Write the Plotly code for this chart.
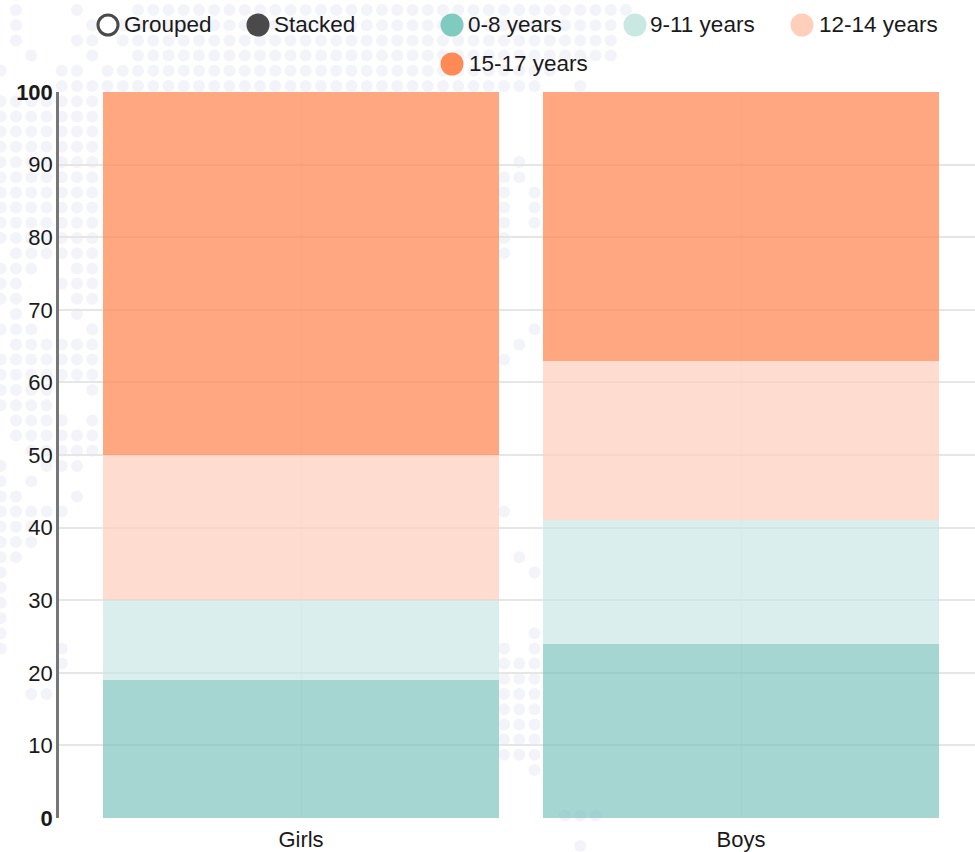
import plotly.graph_objects as go

categories = ["Girls", "Boys"]
series_names = ["0-8 years", "9-11 years", "12-14 years", "15-17 years"]
values_0_8 = [19, 24]
values_9_11 = [11, 17]
values_12_14 = [20, 22]
values_15_17 = [50, 37]
series_values = [values_0_8, values_9_11, values_12_14, values_15_17]
bar_colors = ["rgba(123,195,189,0.68)", "rgba(201,232,228,0.68)",
              "rgba(255,207,188,0.72)", "rgba(255,138,85,0.75)"]
legend_colors = ["#80CBC0", "#C9E8E1", "#FFCFBC", "#FF8A55"]
y_ticks = [0, 10, 20, 30, 40, 50, 60, 70, 80, 90, 100]
y_tick_labels = ["<b>0</b>", "10", "20", "30", "40", "50", "60", "70", "80", "90", "<b>100</b>"]

# Decorative dotted background: row index -> column indices on the page's dot lattice
def span(a, b):
    return list(range(a, b + 1))

dot_rows = {
    0: [0, 4] + span(8, 40), 1: [0, 5] + span(7, 39), 2: [0, 4, 5] + span(7, 39),
    3: [1, 5] + span(8, 39), 4: [-1, 3, 4] + span(6, 35), 5: span(3, 34) + [37],
    6: span(-1, 5), 7: span(-1, 5), 8: span(-1, 5), 9: span(-1, 5),
    10: span(-1, 5) + [33], 11: span(-1, 5) + [32, 33], 12: span(-1, 5) + [32, 34],
    13: span(-1, 5) + [32, 34], 14: span(-1, 5) + [32, 34], 15: span(-1, 5) + [32],
    16: span(0, 5) + [32], 17: [-1, 0, 1, 4, 5], 18: [-1, 0, 3, 4, 5], 19: [-1, 0, 4, 5],
    20: [0, 4], 21: [-1, 0, 1, 5, 34], 22: span(0, 5) + [33], 23: span(-1, 5) + [32],
    24: span(-1, 5), 25: [-1, 0, 1, 2, 5], 26: [-1, 0, 1, 2], 27: [0, 1, 2, 3, 5],
    28: span(0, 5), 29: span(1, 5), 30: [-1, 2, 3, 4], 31: [-1, 1], 32: [-1, 0, 4],
    33: span(-1, 3) + [32], 34: [-1, 0, 1], 35: [-1, 0, 1], 36: [-1, 0, 33], 37: [-1, 34],
    38: [-1], 39: [-1], 40: [-1], 41: [-1, 34], 42: [-1, 3, 32, 34], 43: [3, 32, 33, 34],
    44: [32, 33, 34], 45: [1, 2, 32, 33, 34], 46: [32, 33, 34], 47: [32, 33, 34],
    48: [32, 33, 34], 49: [32, 33, 34], 50: [34], 53: [36, 37, 38], 55: [37],
}

W, H = 975, 852
L, R, T, B = 59, 0, 92, 34
FONT = "Liberation Sans, Arial, sans-serif"
INK = "#1a1a1a"


def px(x):
    return (x - L) / (W - L - R)


def py(y):
    return 1 - (y - T) / (H - T - B)


def circle(cx, cy, r, fill, line=None, lw=0, layer="above"):
    return dict(type="circle", xref="paper", yref="paper", layer=layer,
                x0=px(cx - r), x1=px(cx + r), y0=py(cy + r), y1=py(cy - r),
                fillcolor=fill, line=dict(color=line or fill, width=lw))


shapes = []
for row, cols in dot_rows.items():
    for c in cols:
        shapes.append(circle(16 + 15.25 * c, 10 + 15.2 * row, 6, "#F3F3FA", layer="below"))

legend_items = [
    ("Grouped", 108, 25, 25, 124, "#FFFFFF", "#4A4A4A", 3, 10),
    ("Stacked", 258, 25, 25, 274, "#4A4A4A", None, 0, 11.5),
    (series_names[0], 452, 25, 25, 468, legend_colors[0], None, 0, 11.5),
    (series_names[1], 635, 25, 25, 650, legend_colors[1], None, 0, 11.5),
    (series_names[2], 802, 25, 25, 819, legend_colors[2], None, 0, 11.5),
    (series_names[3], 452, 64, 63, 469, legend_colors[3], None, 0, 11.5),
]
annotations = []
for text, cx, cy, ty, tx, fill, line, lw, r in legend_items:
    shapes.append(circle(cx, cy, r, fill, line, lw))
    annotations.append(dict(text=text, x=px(tx), y=py(ty), xref="paper", yref="paper",
                            xanchor="left", yanchor="middle", showarrow=False,
                            xshift=-2, font=dict(family=FONT, size=22.5, color=INK)))

fig = go.Figure()
for name, vals, color in zip(series_names, series_values, bar_colors):
    fig.add_bar(name=name, x=categories, y=vals, marker=dict(color=color, line=dict(width=0)),
                width=0.902, showlegend=False)

fig.update_layout(
    barmode="stack", width=W, height=H, showlegend=False,
    margin=dict(l=L, r=R, t=T, b=B, pad=0, autoexpand=False),
    paper_bgcolor="#FFFFFF", plot_bgcolor="rgba(0,0,0,0)",
    font=dict(family=FONT, size=22, color=INK),
    shapes=shapes, annotations=annotations,
    xaxis=dict(range=[(L - 301) / 440, 674 / 440], showgrid=True, gridcolor="rgba(0,0,0,0.06)",
               gridwidth=1, showline=False, zeroline=False, ticks="", ticklabelstandoff=6,
               tickfont=dict(family=FONT, size=22, color=INK),
               automargin=False, fixedrange=True),
    yaxis=dict(range=[0, 100], tickvals=y_ticks, ticktext=y_tick_labels,
               showgrid=True, gridcolor="#E6E6E6", gridwidth=2,
               showline=True, linecolor="#777777", linewidth=2.5, zeroline=False,
               ticks="", ticklabelstandoff=-1,
               tickfont=dict(family=FONT, size=22, color=INK),
               automargin=False, fixedrange=True),
)

fig.write_html("out.html", config={"displayModeBar": False},
               post_script="document.body.style.margin='0';document.body.style.overflow='hidden';")
